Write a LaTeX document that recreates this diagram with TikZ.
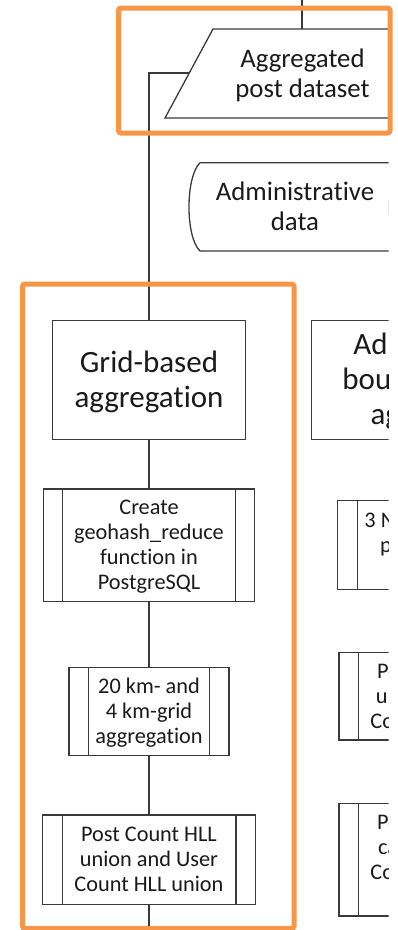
\documentclass[tikz,border=0pt]{standalone}
\usepackage{fontspec}
\setmainfont{Carlito}[Ligatures=NoCommon]
\definecolor{hl}{RGB}{247,150,70}
\definecolor{ink}{RGB}{58,58,58}
\definecolor{txt}{RGB}{26,26,26}
% struts that centre multi-line labels on their capitals
\newcommand\topstrut{\rule{0pt}{1em}}
\newcommand\botstrut{\rule[-0.356em]{0pt}{0.356em}}

\begin{document}
\begin{tikzpicture}[x=1pt,y=-1pt,
  line/.style={draw=ink, line width=1.3pt},
  box/.style={line, rectangle, inner sep=0pt, outer sep=0pt, align=center, text=txt},
  lbl/.style={inner sep=0pt, align=center, text=txt},
  bigtxt/.style={font=\fontsize{31}{35}\selectfont},
  midtxt/.style={font=\fontsize{26.8}{30}\selectfont},
  smalltxt/.style={font=\fontsize{22.3}{25}\selectfont},
  frame/.style={draw=hl, line width=5pt, rounded corners=2.5pt}
]
\useasboundingbox (0,0) rectangle (398,930);

\begin{scope}
\clip (0,-5) rectangle (388.5,935);

% input data set (parallelogram)
\draw[line] (165,118) -- (213,29) -- (440,29) -- (392,118) -- cycle;
\node[lbl, midtxt] (agg) at (302.5,73.5) {\topstrut Aggregated\\post dataset\botstrut};

% stored administrative data
\draw[line] (200,162.7) -- (400,162.7)
  .. controls (385.6,177) and (385.6,237) .. (400,251)
  -- (200,251)
  .. controls (185.3,237) and (185.3,177) .. cycle;
\node[lbl, midtxt] (admdata) at (295,207) {\topstrut Administrative\\data\botstrut};

% left column: grid-based aggregation
\node[box, bigtxt, minimum width=193.4pt, minimum height=118.6pt] (grid) at (149,380)
  {\topstrut Grid-based\\aggregation\botstrut};
\node[box, smalltxt, minimum width=211.6pt, minimum height=112.7pt] (A) at (149,545.3)
  {\topstrut Create\\geohash\_reduce\\function in\\PostgreSQL\botstrut};
\node[box, smalltxt, minimum width=160pt, minimum height=88.4pt] (B) at (149,711.5)
  {\topstrut 20 km- and\\4 km-grid\\aggregation\botstrut};
\node[box, smalltxt, minimum width=212.7pt, minimum height=89.3pt] (C) at (149,859.7)
  {\topstrut Post Count HLL\\union and User\\Count HLL union\botstrut};

% right column: administrative boundary aggregation
\node[box, bigtxt, minimum width=266.6pt, minimum height=119pt] (adm) at (445,379.7)
  {\topstrut Administrative\\boundary-based\\aggregation\botstrut};
\node[box, smalltxt, minimum width=214.6pt, minimum height=88.6pt] (R1) at (445,545)
  {\topstrut 3 NUTS levels and\\polygon layers\\in PostGIS\botstrut};
\node[box, smalltxt, minimum width=212pt, minimum height=87.7pt] (R2) at (445,696.2)
  {\topstrut Post Count HLL\\union and User\\Count HLL union\botstrut};
\node[box, smalltxt, minimum width=212pt, minimum height=112.7pt] (R3) at (445,859.7)
  {\topstrut Post Count HLL\\cardinality and\\Count HLL union\\cardinality\botstrut};

% side bars of the predefined-process boxes
\foreach \n in {A,B,C,R1,R2,R3} {
  \draw[line] ([xshift=19.5pt]\n.north west) -- ([xshift=19.5pt]\n.south west);
  \draw[line] ([xshift=-19.5pt]\n.north east) -- ([xshift=-19.5pt]\n.south east);
}

% connectors
\coordinate (topin) at (302,-2);
\coordinate (aggtop) at (302,29);
\coordinate (aggleft) at (189.3,73);
\coordinate (exit) at (149,935);
\draw[line] (topin) -- (aggtop);
\draw[line] (aggleft) -| (grid.north);
\draw[line] (grid.south) -- (A.north);
\draw[line] (A.south) -- (B.north);
\draw[line] (B.south) -- (C.north);
\draw[line] (C.south) -- (exit);
\end{scope}

% highlight frames
\draw[frame] (118.5,8) rectangle (390,133);
\draw[frame] (22.5,284) rectangle (294,928.5);
\end{tikzpicture}
\end{document}
